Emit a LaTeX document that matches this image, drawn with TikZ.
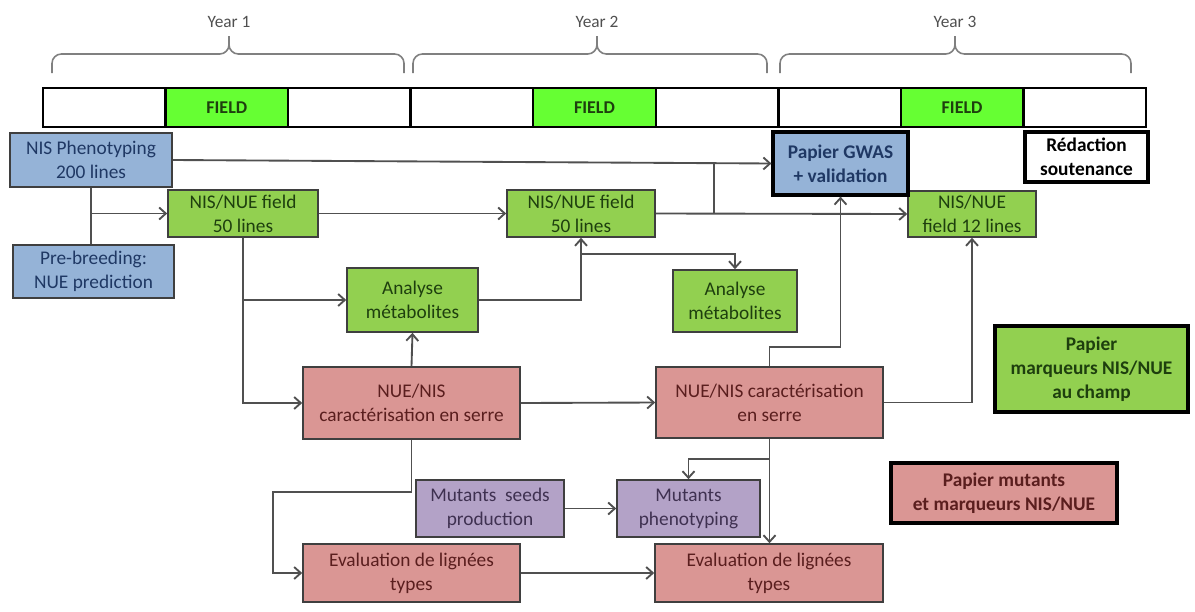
\documentclass[tikz,border=0pt]{standalone}
\usepackage{fontspec}
\setmainfont{Carlito}
\usetikzlibrary{arrows.meta,calc}

\definecolor{bluebox}{HTML}{95B3D7}
\definecolor{bluetext}{HTML}{1F3864}
\definecolor{greenbox}{HTML}{92D050}
\definecolor{greentext}{HTML}{1E3F0E}
\definecolor{pinkbox}{HTML}{DA9694}
\definecolor{pinktext}{HTML}{5A1E1E}
\definecolor{purplebox}{HTML}{B3A2C7}
\definecolor{purpletext}{HTML}{3F3151}
\definecolor{fieldgreen}{HTML}{66FF33}
\definecolor{linegrey}{HTML}{505050}
\definecolor{bordergrey}{HTML}{3F3F3F}

\tikzset{
  box/.style={draw=bordergrey, line width=1.2pt, align=center, inner sep=1pt,
    font=\fontsize{14.5}{18}\selectfont},
  sz/.style 2 args={minimum width=#1*0.75pt, minimum height=#2*0.75pt},
  bluebx/.style={box, fill=bluebox, text=bluetext},
  greenbx/.style={box, fill=greenbox, text=greentext},
  pinkbx/.style={box, fill=pinkbox, text=pinktext},
  purplebx/.style={box, fill=purplebox, text=purpletext},
  paper/.style={draw=black, line width=2.4pt, font=\bfseries\fontsize{14.5}{18}\selectfont},
  cell/.style={draw=black, line width=1.8pt, minimum width=91.9pt, minimum height=29.25pt,
    inner sep=0pt, font=\bfseries\fontsize{13.5}{15}\selectfont, text=greentext},
  year/.style={font=\fontsize{13}{15}\selectfont, text=linegrey},
  brace/.style={draw=gray, line width=1.2pt, rounded corners=7pt},
  ln/.style={draw=linegrey, line width=1.4pt},
  arr/.style={ln, -{Straight Barb[length=5pt,width=9pt]}}
}

\begin{document}
\begin{tikzpicture}[x=0.75pt, y=-0.75pt]
  \useasboundingbox (0,0) rectangle (1195,611);

  % years
  \node[year] (year1) at (229,22) {Year 1};
  \node[year] (year2) at (597,22) {Year 2};
  \node[year] (year3) at (955,22) {Year 3};
  \coordinate (b1l) at (52,73);  \coordinate (b1r) at (404,73);
  \coordinate (b2l) at (413,73); \coordinate (b2r) at (767,73);
  \coordinate (b3l) at (780,73); \coordinate (b3r) at (1131,73);
  \draw[brace] (b1l) |- (229,54) -- (229,36);
  \draw[brace] (229,36) -- (229,54) -| (b1r);
  \draw[brace] (b2l) |- (597,54) -- (597,36);
  \draw[brace] (597,36) -- (597,54) -| (b2r);
  \draw[brace] (b3l) |- (955,54) -- (955,36);
  \draw[brace] (955,36) -- (955,54) -| (b3r);

  % timeline
  \node[cell] (c1) at (104.3,107.5) {};
  \node[cell, fill=fieldgreen] (c2) at (226.8,107.5) {FIELD};
  \node[cell] (c3) at (349.4,107.5) {};
  \node[cell] (c4) at (471.9,107.5) {};
  \node[cell, fill=fieldgreen] (c5) at (594.5,107.5) {FIELD};
  \node[cell] (c6) at (717.0,107.5) {};
  \node[cell] (c7) at (839.6,107.5) {};
  \node[cell, fill=fieldgreen] (c8) at (962.1,107.5) {FIELD};
  \node[cell] (c9) at (1084.7,107.5) {};

  % boxes
  \node[bluebx, sz={162}{54}] (nis) at (91,160) {NIS Phenotyping\\200 lines};
  \node[bluebx, sz={161}{53}] (prebreed) at (93.5,271.5) {Pre-breeding:\\NUE prediction};
  \node[greenbx, sz={150}{47}] (field1) at (243,213.5) {NIS/NUE field\\50 lines};
  \node[greenbx, sz={148}{47}] (field2) at (581,213.5) {NIS/NUE field\\50 lines};
  \node[greenbx, sz={128}{46}] (field12) at (972,214) {NIS/NUE\\field 12 lines};
  \node[bluebx, paper, sz={135}{63}] (gwas) at (840.5,163.5) {Papier GWAS\\+ validation};
  \node[box, paper, fill=white, sz={123}{50}] (redac) at (1086.5,157) {Rédaction\\soutenance};
  \node[greenbx, sz={131}{64}] (ana1) at (412.5,300) {Analyse\\métabolites};
  \node[greenbx, sz={124}{62}] (ana2) at (735,301) {Analyse\\métabolites};
  \node[greenbx, paper, sz={193}{86}] (marq) at (1091.5,369) {Papier\\marqueurs NIS/NUE\\au champ};
  \node[pinkbx, sz={217}{72}] (nue1) at (411.5,403) {NUE/NIS\\caractérisation en serre};
  \node[pinkbx, sz={227}{71}] (nue2) at (769.5,402.5) {NUE/NIS caractérisation\\en serre};
  \node[pinkbx, paper, sz={226}{60}] (mutpap) at (1004,493) {Papier mutants\\et marqueurs NIS/NUE};
  \node[purplebx, sz={148}{57}] (seeds) at (490,508.5) {Mutants~~seeds\\production};
  \node[purplebx, sz={143}{57}] (mpheno) at (688.5,508.5) {Mutants\\phenotyping};
  \node[pinkbx, sz={217}{58}] (eval1) at (411.5,573) {Evaluation de lignées\\types};
  \node[pinkbx, sz={228}{58}] (eval2) at (769,573) {Evaluation de lignées\\types};

  % junctions
  \coordinate (j1) at (nis.south |- field1.west);
  \coordinate (j2) at ($(field2.south)+(0,16)$);
  \coordinate (j3) at ($(field2.east)+(58,0)$);
  \coordinate (j5) at ($(nue2.south)+(0,20)$);
  \coordinate (k1) at (273,492);

  % connectors
  \draw[arr] (nis.east) -- (gwas.west);
  \draw[ln] (nis.south) -- (nis.south |- prebreed.north);
  \draw[arr] (j1) -- (field1.west);
  \draw[arr] (field1.east) -- (field2.west);
  \draw[arr] (field1.south) |- (nue1.west);
  \draw[arr] (field1.south |- ana1.west) -- (ana1.west);
  \draw[arr] (ana1.east) -| (field2.south);
  \draw[arr] (j2) -| (ana2.north);
  \draw[arr] (field2.east) -- (field12.west);
  \draw[ln] (j3) -- (j3 |- gwas.west);
  \draw[arr] (nue1.north) -- (ana1.south);
  \draw[arr] (nue1.east) -- (nue2.west);
  \draw[arr] (nue2.north) -- ++(0,-19) -| (gwas.south);
  \draw[arr] (nue2.east) -| (field12.south);
  \draw[arr] (nue2.south) -- (nue2.south |- eval2.north);
  \draw[arr] (j5) -| (mpheno.north);
  \draw[arr] (nue1.south) |- (k1) |- (eval1.west);
  \draw[arr] (seeds.east) -- (mpheno.west);
  \draw[arr] (eval1.east) -- (eval2.west);
\end{tikzpicture}
\end{document}
